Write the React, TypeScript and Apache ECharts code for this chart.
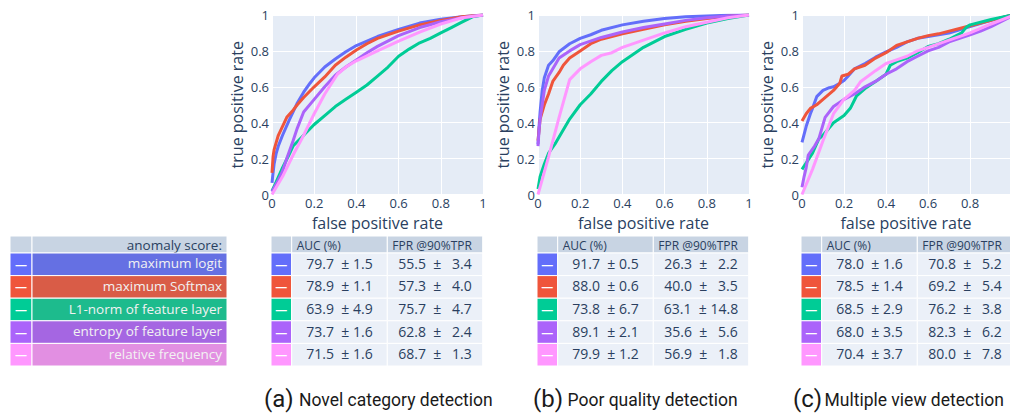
import React, { useEffect, useRef } from "react";
import * as echarts from "echarts";

// ---------- data ----------
const methods = [
  "maximum logit",
  "maximum Softmax",
  "L1-norm of feature layer",
  "entropy of feature layer",
  "relative frequency",
];
const legendHeader = "anomaly score:";
const tableHeaders = ["AUC (%)", "FPR @90%TPR"];
const captionLetters = ["(a)", "(b)", "(c)"];
const captionTexts = ["Novel category detection", "Poor quality detection", "Multiple view detection"];
const xAxisTitle = "false positive rate";
const yAxisTitle = "true positive rate";

// (a) novel category
const novelLogit = [[0,0.065],[0.005,0.12],[0.01,0.17],[0.02,0.23],[0.03,0.27],[0.05,0.33],[0.08,0.41],[0.1,0.46],[0.12,0.51],[0.15,0.57],[0.18,0.62],[0.2,0.65],[0.25,0.71],[0.3,0.755],[0.35,0.795],[0.4,0.83],[0.45,0.855],[0.5,0.88],[0.6,0.92],[0.7,0.955],[0.8,0.977],[0.9,0.99],[1,1]];
const novelSoftmax = [[0,0.12],[0.005,0.21],[0.01,0.25],[0.02,0.29],[0.03,0.33],[0.05,0.38],[0.07,0.43],[0.1,0.47],[0.12,0.5],[0.15,0.54],[0.2,0.6],[0.25,0.655],[0.3,0.72],[0.35,0.765],[0.4,0.805],[0.45,0.84],[0.5,0.87],[0.6,0.91],[0.7,0.945],[0.8,0.97],[0.9,0.99],[1,1]];
const novelL1 = [[0,0.02],[0.02,0.07],[0.05,0.15],[0.08,0.22],[0.1,0.27],[0.15,0.33],[0.2,0.39],[0.25,0.44],[0.3,0.49],[0.35,0.53],[0.4,0.57],[0.45,0.61],[0.5,0.66],[0.55,0.71],[0.6,0.77],[0.65,0.81],[0.7,0.845],[0.75,0.87],[0.8,0.9],[0.85,0.93],[0.9,0.96],[0.95,0.99],[1,1]];
const novelEntropy = [[0,0.015],[0.03,0.08],[0.05,0.13],[0.07,0.2],[0.1,0.3],[0.12,0.37],[0.15,0.46],[0.2,0.53],[0.25,0.6],[0.3,0.665],[0.35,0.71],[0.4,0.75],[0.45,0.79],[0.5,0.825],[0.6,0.885],[0.7,0.93],[0.8,0.962],[0.9,0.985],[1,1]];
const novelFreq = [[0,0],[0.05,0.1],[0.1,0.22],[0.15,0.33],[0.2,0.45],[0.25,0.56],[0.31,0.67],[0.35,0.71],[0.4,0.745],[0.5,0.8],[0.6,0.855],[0.7,0.905],[0.8,0.95],[0.9,0.985],[1,1]];
const novelAucMean = [79.7, 78.9, 63.9, 73.7, 71.5];
const novelAucStd = [1.5, 1.1, 4.9, 1.6, 1.6];
const novelFprMean = [55.5, 57.3, 75.7, 62.8, 68.7];
const novelFprStd = [3.4, 4.0, 4.7, 2.4, 1.3];

// (b) poor quality
const poorLogit = [[0,0.28],[0.005,0.38],[0.01,0.46],[0.02,0.58],[0.03,0.65],[0.05,0.72],[0.07,0.745],[0.1,0.795],[0.15,0.84],[0.2,0.87],[0.25,0.89],[0.3,0.915],[0.4,0.945],[0.5,0.965],[0.6,0.98],[0.7,0.99],[0.8,0.995],[0.9,0.998],[1,1]];
const poorSoftmax = [[0,0.3],[0.01,0.42],[0.03,0.5],[0.05,0.56],[0.07,0.63],[0.1,0.68],[0.12,0.72],[0.15,0.76],[0.2,0.8],[0.25,0.84],[0.3,0.865],[0.4,0.895],[0.5,0.92],[0.6,0.945],[0.7,0.965],[0.8,0.98],[0.9,0.993],[1,1]];
const poorL1 = [[0,0.03],[0.01,0.1],[0.03,0.17],[0.05,0.23],[0.08,0.28],[0.1,0.32],[0.15,0.42],[0.2,0.5],[0.25,0.56],[0.3,0.63],[0.35,0.69],[0.4,0.74],[0.45,0.78],[0.5,0.82],[0.6,0.88],[0.7,0.92],[0.8,0.955],[0.9,0.98],[1,1]];
const poorEntropy = [[0,0.27],[0.005,0.36],[0.01,0.42],[0.02,0.5],[0.03,0.58],[0.05,0.66],[0.08,0.72],[0.1,0.76],[0.15,0.8],[0.2,0.835],[0.3,0.875],[0.4,0.905],[0.5,0.93],[0.6,0.95],[0.7,0.97],[0.8,0.985],[0.9,0.995],[1,1]];
const poorFreq = [[0,0],[0.05,0.21],[0.1,0.43],[0.15,0.64],[0.2,0.7],[0.25,0.74],[0.3,0.775],[0.35,0.79],[0.4,0.82],[0.5,0.86],[0.6,0.9],[0.7,0.935],[0.8,0.96],[0.9,0.985],[1,1]];
const poorAucMean = [91.7, 88.0, 73.8, 89.1, 79.9];
const poorAucStd = [0.5, 0.6, 6.7, 2.1, 1.2];
const poorFprMean = [26.3, 40.0, 63.1, 35.6, 56.9];
const poorFprStd = [2.2, 3.5, 14.8, 5.6, 1.8];

// (c) multiple view
const multiLogit = [[0,0.29],[0.02,0.38],[0.04,0.45],[0.05,0.48],[0.07,0.545],[0.1,0.58],[0.13,0.595],[0.15,0.6],[0.18,0.62],[0.2,0.635],[0.22,0.66],[0.25,0.7],[0.3,0.73],[0.35,0.765],[0.4,0.795],[0.45,0.82],[0.5,0.85],[0.55,0.87],[0.6,0.88],[0.7,0.9],[0.8,0.935],[0.9,0.97],[1,1]];
const multiSoftmax = [[0,0.41],[0.02,0.45],[0.04,0.48],[0.07,0.5],[0.1,0.53],[0.15,0.58],[0.18,0.62],[0.19,0.66],[0.22,0.67],[0.25,0.7],[0.3,0.72],[0.35,0.76],[0.4,0.79],[0.45,0.83],[0.5,0.85],[0.55,0.87],[0.6,0.885],[0.65,0.895],[0.7,0.91],[0.75,0.925],[0.8,0.94],[0.9,0.97],[1,1]];
const multiL1 = [[0,0.14],[0.05,0.23],[0.08,0.31],[0.1,0.33],[0.15,0.4],[0.2,0.44],[0.23,0.48],[0.26,0.55],[0.3,0.59],[0.35,0.63],[0.4,0.67],[0.42,0.72],[0.45,0.74],[0.5,0.76],[0.55,0.79],[0.6,0.825],[0.65,0.84],[0.7,0.865],[0.76,0.9],[0.78,0.93],[0.8,0.945],[0.9,0.975],[1,1]];
const multiEntropy = [[0,0.04],[0.01,0.1],[0.02,0.15],[0.03,0.22],[0.06,0.27],[0.08,0.31],[0.11,0.43],[0.15,0.49],[0.2,0.53],[0.25,0.56],[0.3,0.6],[0.35,0.63],[0.4,0.67],[0.45,0.7],[0.5,0.74],[0.55,0.77],[0.6,0.8],[0.65,0.82],[0.7,0.85],[0.8,0.89],[0.85,0.91],[0.9,0.935],[1,0.995]];
const multiFreq = [[0,0],[0.05,0.14],[0.1,0.3],[0.15,0.45],[0.2,0.53],[0.25,0.58],[0.28,0.63],[0.35,0.69],[0.4,0.73],[0.45,0.75],[0.5,0.77],[0.55,0.8],[0.6,0.82],[0.7,0.86],[0.8,0.9],[0.9,0.95],[1,0.995]];
const multiAucMean = [78.0, 78.5, 68.5, 68.0, 70.4];
const multiAucStd = [1.6, 1.4, 2.9, 3.5, 3.7];
const multiFprMean = [70.8, 69.2, 76.2, 82.3, 80.0];
const multiFprStd = [5.2, 5.4, 3.8, 6.2, 7.8];

// ---------- style ----------
const COLORS = ["#636efa", "#EF553B", "#00cc96", "#ab63fa", "#FF97FF"];
const LEGEND_FILL = ["#6570E3", "#D95C47", "#1DBB8D", "#A566E2", "#E28FE2"];
const INK = "#2a3f5f";
const HEAD_FILL = "#C8D4E3";
const CELL_FILL = "#EBF0F8";
const FONT = "'Open Sans', sans-serif";
const NB = "\u00a0";

const panels = [
  { left: 272, width: 211, xMax: 1, curves: [novelLogit, novelSoftmax, novelL1, novelEntropy, novelFreq], auc: novelAucMean, aucS: novelAucStd, fpr: novelFprMean, fprS: novelFprStd, capL: 264, capT: 299 },
  { left: 538, width: 211, xMax: 1, curves: [poorLogit, poorSoftmax, poorL1, poorEntropy, poorFreq], auc: poorAucMean, aucS: poorAucStd, fpr: poorFprMean, fprS: poorFprStd, capL: 533, capT: 567.5 },
  { left: 802, width: 208, xMax: 0.99, curves: [multiLogit, multiSoftmax, multiL1, multiEntropy, multiFreq], auc: multiAucMean, aucS: multiAucStd, fpr: multiFprMean, fprS: multiFprStd, capL: 793, capT: 824.5 },
];

const GRID_TOP = 15;
const GRID_H = 179.5;
const T_TOP = 236;
const T_HEAD = 17;
const T_ROW = 22.6;

function rect(x: number, y: number, w: number, h: number, fill: string) {
  return { type: "rect", silent: true, shape: { x, y, width: w, height: h }, style: { fill, stroke: "#ffffff", lineWidth: 1 } };
}
function txt(x: number, y: number, text: string, opts: any) {
  return {
    type: "text", silent: true, x, y,
    style: {
      text, fill: opts.fill || INK, fontSize: opts.size || 13, fontFamily: opts.family || FONT,
      fontWeight: opts.weight || "normal",
      align: opts.align || "left", textAlign: opts.align || "left",
      verticalAlign: "middle", textVerticalAlign: "middle",
    },
  };
}

function buildGraphics() {
  const g: any[] = [];
  // legend table
  const LX = 10, LC = 22, LW = 217;
  g.push(rect(LX, T_TOP, LC, T_HEAD, HEAD_FILL));
  g.push(rect(LX + LC, T_TOP, LW - LC, T_HEAD, HEAD_FILL));
  g.push(txt(LX + LW - 5, T_TOP + T_HEAD / 2 + 0.5, legendHeader, { size: 13.5, align: "right" }));
  methods.forEach((m, i) => {
    const y = T_TOP + T_HEAD + i * T_ROW;
    g.push(rect(LX, y, LC, T_ROW, COLORS[i]));
    g.push(rect(LX + LC, y, LW - LC, T_ROW, LEGEND_FILL[i]));
    g.push(txt(LX + LC / 2, y + T_ROW / 2, "—", { fill: "#ffffff", size: 12, align: "center", weight: "bold" }));
    g.push(txt(LX + LW - 5, y + T_ROW / 2 - 1, m, { fill: "#f2f2f2", size: 13.5, align: "right" }));
  });
  // data tables
  const C0 = 20.7, C1 = 95.6, C2 = 95.4;
  panels.forEach((p, pi) => {
    const tx = p.left - 1;
    g.push(rect(tx, T_TOP, C0, T_HEAD, HEAD_FILL));
    g.push(rect(tx + C0, T_TOP, C1, T_HEAD, HEAD_FILL));
    g.push(rect(tx + C0 + C1, T_TOP, C2, T_HEAD, HEAD_FILL));
    g.push(txt(tx + C0 + 5, T_TOP + T_HEAD / 2 + 0.5, tableHeaders[0], { size: 12 }));
    g.push(txt(tx + C0 + C1 + 5, T_TOP + T_HEAD / 2 + 0.5, tableHeaders[1], { size: 12 }));
    methods.forEach((_, i) => {
      const y = T_TOP + T_HEAD + i * T_ROW;
      g.push(rect(tx, y, C0, T_ROW, COLORS[i]));
      g.push(rect(tx + C0, y, C1, T_ROW, CELL_FILL));
      g.push(rect(tx + C0 + C1, y, C2, T_ROW, CELL_FILL));
      g.push(txt(tx + C0 / 2, y + T_ROW / 2, "—", { fill: "#ffffff", size: 12, align: "center", weight: "bold" }));
      const fs = p.fprS[i].toFixed(1);
      const aucText = `${p.auc[i].toFixed(1)}${NB} ± ${p.aucS[i].toFixed(1)}`;
      const fprText = `${p.fpr[i].toFixed(1)}${NB} ± ${fs.length < 4 ? NB + NB : ""}${fs}`;
      g.push(txt(tx + C0 + C1 / 2, y + T_ROW / 2 - 1, aucText, { size: 14, align: "center" }));
      g.push(txt(tx + C0 + C1 + C2 / 2, y + T_ROW / 2 - 1, fprText, { size: 14, align: "center" }));
    });
    g.push(txt(p.capL, 399, captionLetters[pi], { size: 24, family: "Roboto, sans-serif", fill: "#1a1a1a" }));
    g.push(txt(p.capT, 399.5, captionTexts[pi], { size: 17.5, family: "Roboto, sans-serif", fill: "#1a1a1a" }));
  });
  return g;
}

function buildOption() {
  const axisCommon = {
    type: "value", min: 0, interval: 0.2,
    nameLocation: "middle",
    nameTextStyle: { color: INK, fontSize: 16, fontFamily: FONT },
    axisLine: { show: false }, axisTick: { show: false },
    splitLine: { show: true, lineStyle: { color: "#ffffff", width: 1 } },
  };
  return {
    animation: false,
    grid: panels.map((p) => ({ left: p.left, top: GRID_TOP, width: p.width, height: GRID_H, show: true, backgroundColor: "#E5ECF6", borderWidth: 0 })),
    xAxis: panels.map((p, i) => ({
      ...axisCommon, gridIndex: i, max: p.xMax, name: xAxisTitle, nameGap: 20,
      axisLabel: { color: INK, fontSize: 13, fontFamily: FONT, margin: 2, showMaxLabel: p.xMax === 1 },
    })),
    yAxis: panels.map((p, i) => ({
      ...axisCommon, gridIndex: i, max: 1, name: yAxisTitle, nameGap: 27,
      axisLabel: { color: INK, fontSize: 13, fontFamily: FONT, margin: 3 },
    })),
    series: panels.flatMap((p, i) =>
      p.curves.map((c, j) => ({
        type: "line", name: methods[j], xAxisIndex: i, yAxisIndex: i, data: c,
        showSymbol: false, symbol: "none", silent: true, z: 2 + j,
        lineStyle: { color: COLORS[j], width: 3 }, itemStyle: { color: COLORS[j] },
      }))
    ),
    graphic: { elements: buildGraphics() },
  };
}

export default function App() {
  const ref = useRef<HTMLDivElement>(null);
  useEffect(() => {
    if (!ref.current) return;
    const chart = echarts.init(ref.current, undefined, { renderer: "svg" });
    chart.setOption(buildOption() as any);
    return () => chart.dispose();
  }, []);
  return <div ref={ref} style={{ position: "absolute", left: 0, top: 0, width: 1010, height: 413, background: "#ffffff" }} />;
}
